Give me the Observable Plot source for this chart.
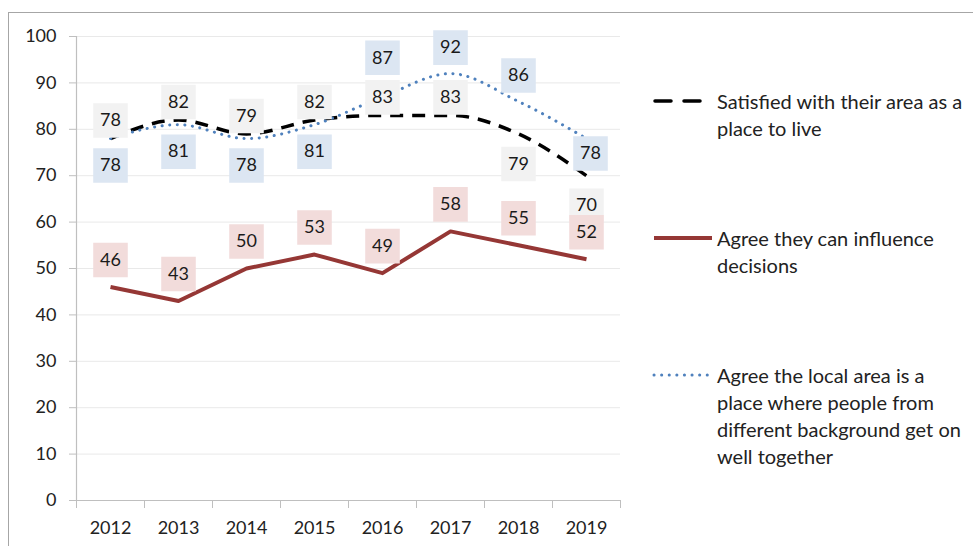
<!DOCTYPE html>
<html>
<head>
<meta charset="utf-8">
<script src="https://cdn.jsdelivr.net/npm/d3@7"></script>
<script src="https://cdn.jsdelivr.net/npm/@observablehq/plot@0.6"></script>
<style>
  html, body { margin: 0; padding: 0; background: #fff; }
  #wrap { position: relative; width: 973px; height: 546px; overflow: hidden; font-family: Lato, "Open Sans", sans-serif; }
  #frame { position: absolute; left: 8px; top: 12px; width: 2000px; height: 2000px; border-top: 1.5px solid #a6a6a6; border-left: 1.5px solid #a6a6a6; pointer-events: none; }
  #chart { position: absolute; left: 0; top: 0; }
  .leg { position: absolute; left: 0; top: 0; }
  .legtext { position: absolute; left: 717px; font-size: 20px; line-height: 27px; color: #222; white-space: nowrap; }
</style>
</head>
<body>
<div id="wrap">
  <div id="frame"></div>
  <div id="chart"></div>
  <div id="legend"></div>
</div>
<script>
const years = [2012, 2013, 2014, 2015, 2016, 2017, 2018, 2019];
const satisfied = [78, 82, 79, 82, 83, 83, 79, 70];
const influence = [46, 43, 50, 53, 49, 58, 55, 52];
const diverse = [78, 81, 78, 81, 87, 92, 86, 78];
const yTicks = [0, 10, 20, 30, 40, 50, 60, 70, 80, 90, 100];
const seriesNames = [
  "Satisfied with their area as a place to live",
  "Agree they can influence decisions",
  "Agree the local area is a place where people from different background get on well together"
];
const satisfiedPlacement = ["above", "above", "above", "above", "above", "above", "below", "below"];
const influencePlacement = ["above", "above", "above", "above", "above", "above", "above", "above"];
const diversePlacement = ["below", "below", "below", "below", "high", "above", "above", "near"];

const styles = {
  sat: { stroke: "#000000", width: 3.5, dash: "13,9", cap: "butt", curve: "monotone-x", box: "#f2f2f2" },
  inf: { stroke: "#953735", width: 4, dash: null, cap: "butt", curve: "linear", box: "#f2dcdb" },
  div: { stroke: "#4f81bd", width: 3, dash: "0.1,7.5", cap: "round", curve: "monotone-x", box: "#dce6f2" }
};
const offsets = {
  sat: { above: [0, -18], below: [0, 30] },
  inf: { above: [0, -27] },
  div: { above: [0, -26], below: [0, 27], high: [0, -39], near: [4, 15] }
};

function rows(key, values, placement) {
  return years.map((year, i) => ({ key, year, value: values[i], placement: placement[i] }));
}
const satRows = rows("sat", satisfied, satisfiedPlacement);
const infRows = rows("inf", influence, influencePlacement);
const divRows = rows("div", diverse, diversePlacement);

const boundaries = d3.range(years.length + 1).map(i => years[0] - 0.5 + i);

function lineMark(data) {
  const s = styles[data[0].key];
  return Plot.line(data, {
    x: "year", y: "value", stroke: s.stroke, strokeWidth: s.width,
    strokeDasharray: s.dash, strokeLinecap: s.cap, curve: s.curve
  });
}
function labelMarks(data) {
  const s = styles[data[0].key];
  const groups = d3.groups(data, d => d.placement);
  const out = [];
  for (const [p, g] of groups) {
    const [dx, dy] = offsets[data[0].key][p];
    out.push(Plot.dot(g, { x: "year", y: "value", symbol: "square", r: 19.5, fill: s.box, stroke: null, dx, dy }));
    out.push(Plot.text(g, { x: "year", y: "value", text: d => String(d.value), dx, dy, fill: "#1a1a1a", fontSize: 18 }));
  }
  return out;
}

const chart = Plot.plot({
  width: 973,
  height: 546,
  marginLeft: 76,
  marginRight: 353,
  marginTop: 36,
  marginBottom: 46,
  x: { type: "linear", domain: [boundaries[0], boundaries[boundaries.length - 1]], label: null },
  y: { domain: [0, 100], label: null },
  style: { fontFamily: "Lato, 'Open Sans', sans-serif", fontSize: "18px", color: "#222", background: "transparent" },
  marks: [
    Plot.ruleY(yTicks.filter(d => d > 0), { stroke: "#e9e9e9", strokeWidth: 1 }),
    Plot.ruleX([boundaries[0]], { y1: 0, y2: 100, stroke: "#bfbfbf", strokeWidth: 1.2 }),
    Plot.ruleY([0], { stroke: "#bfbfbf", strokeWidth: 1.2 }),
    Plot.axisY({ ticks: yTicks, tickSize: 7, tickPadding: 13, stroke: "#bfbfbf", fill: "#222", tickFormat: d => String(d), label: null, fontSize: 18 }),
    Plot.axisX({ ticks: boundaries, tickSize: 8, stroke: "#bfbfbf", tickFormat: () => "", label: null }),
    Plot.axisX({ ticks: years, tickSize: 0, tickPadding: 21, fill: "#222", tickFormat: d => String(d), label: null, fontSize: 18 }),
    lineMark(satRows),
    lineMark(infRows),
    lineMark(divRows),
    ...labelMarks(satRows),
    ...labelMarks(divRows),
    ...labelMarks(infRows)
  ]
});
document.getElementById("chart").appendChild(chart);

// Legend
const legend = document.getElementById("legend");
const legendItems = [
  { key: "sat", name: seriesNames[0], lines: ["Satisfied with their area as a", "place to live"], cy: 101, x2: 700 },
  { key: "inf", name: seriesNames[1], lines: ["Agree they can influence", "decisions"], cy: 238, x2: 712 },
  { key: "div", name: seriesNames[2], lines: ["Agree the local area is a", "place where people from", "different background get on", "well together"], cy: 375, x2: 709 }
];
const svgNS = "http://www.w3.org/2000/svg";
const legSvg = document.createElementNS(svgNS, "svg");
legSvg.setAttribute("width", 973);
legSvg.setAttribute("height", 546);
legSvg.setAttribute("class", "leg");
for (const item of legendItems) {
  const s = styles[item.key];
  const ln = document.createElementNS(svgNS, "line");
  ln.setAttribute("x1", item.key === "sat" ? 655 : 654);
  ln.setAttribute("x2", item.x2);
  ln.setAttribute("y1", item.cy);
  ln.setAttribute("y2", item.cy);
  ln.setAttribute("stroke", s.stroke);
  ln.setAttribute("stroke-width", s.width);
  if (s.dash) ln.setAttribute("stroke-dasharray", item.key === "sat" ? "16,13" : s.dash);
  ln.setAttribute("stroke-linecap", item.key === "sat" ? "round" : s.cap);
  legSvg.appendChild(ln);
  const div = document.createElement("div");
  div.className = "legtext";
  div.style.top = (item.cy - 13.5) + "px";
  div.innerHTML = item.lines.join("<br>");
  div.title = item.name;
  legend.appendChild(div);
}
legend.appendChild(legSvg);
</script>
</body>
</html>
